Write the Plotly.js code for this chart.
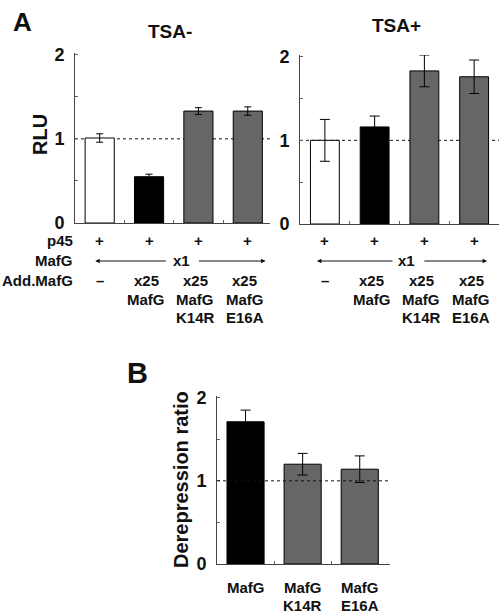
<!DOCTYPE html>
<html><head><meta charset="utf-8">
<script src="https://cdn.plot.ly/plotly-3.0.1.min.js"></script>
<style>body{margin:0;background:#fff}</style>
</head><body><div id="chart" style="width:500px;height:615px"></div>
<script>
// ---- data ----
const conditionsA = ["none", "MafG", "MafG K14R", "MafG E16A"];
const tsaMinus = [1.01, 0.55, 1.33, 1.33];
const tsaMinusErr = [0.05, 0.03, 0.04, 0.05];
const tsaPlus = [1.00, 1.16, 1.83, 1.76];
const tsaPlusErr = [0.25, 0.13, 0.19, 0.20];
const barColorsA = ["#ffffff", "#000000", "#666666", "#666666"];
const p45Row = ["+", "+", "+", "+"];
const addMafGRow = [["–"], ["x25", "MafG"], ["x25", "MafG", "K14R"], ["x25", "MafG", "E16A"]];
const rowLabels = ["p45", "MafG", "Add.MafG"];
const categoriesB = [["MafG"], ["MafG", "K14R"], ["MafG", "E16A"]];
const derepression = [1.71, 1.20, 1.14];
const derepressionErr = [0.14, 0.13, 0.16];
const barColorsB = ["#000000", "#666666", "#666666"];
const yTickVals = [0, 0.5, 1, 1.5, 2];
const yTickText = ["0", "", "1", "", "2"];

// ---- helpers ----
const W = 500, H = 615;
const px = v => v / W;
const py = v => 1 - v / H;
const FONT = "Liberation Sans, Arial, Helvetica, sans-serif";
const idxA = conditionsA.map((_, i) => i);
const idxB = categoriesB.map((_, i) => i);

function bar(x, y, err, colors, width, cap, xa, ya) {
  return {
    type: "bar", x: x, y: y, xaxis: xa, yaxis: ya, width: width,
    marker: {color: colors, line: {color: "#000", width: 1}},
    error_y: {type: "data", array: err, visible: true, color: "#000", thickness: 1, width: cap},
    hoverinfo: "skip", showlegend: false
  };
}
const traces = [
  bar(idxA, tsaMinus, tsaMinusErr, barColorsA, 0.59, 3.5, "x", "y"),
  bar(idxA, tsaPlus, tsaPlusErr, barColorsA, 0.58, 5, "x2", "y2"),
  bar(idxB, derepression, derepressionErr, barColorsB, 0.65, 5, "x3", "y3")
];

function xax(domain, range, n) {
  const tv = []; for (let i = 0; i < n - 1; i++) tv.push(i + 0.5);
  return {domain: domain, range: range, showline: true, linecolor: "#444", linewidth: 1,
    showgrid: false, zeroline: false, ticks: "inside", ticklen: 3, tickcolor: "#666",
    tickvals: tv, showticklabels: false, fixedrange: true};
}
function yax(domain, anchor) {
  return {domain: domain, range: [0, 2.02], anchor: anchor, showline: true, linecolor: "#444", linewidth: 1,
    showgrid: false, zeroline: false, ticks: "inside", ticklen: 3, tickcolor: "#666",
    tickvals: yTickVals, ticktext: yTickText, ticklabelstandoff: 6,
    tickfont: {family: FONT, size: 18, color: "#111", weight: "bold"}, fixedrange: true};
}

const ann = [];
function txt(text, x, y, size, opts) {
  ann.push(Object.assign({text: text, x: x, y: y, xref: "paper", yref: "paper", showarrow: false,
    xanchor: "center", yanchor: "middle",
    font: {family: FONT, size: size, color: "#111", weight: "bold"}}, opts || {}));
}
// panel letters and titles
txt("A", px(22), py(22), 26);
txt("B", px(137), py(373), 29);
txt("TSA-", px(170), py(32), 19);
txt("TSA+", px(396), py(26), 19);
txt("RLU", px(40), py(135), 20, {textangle: -90});
txt("Derepression ratio", px(181), py(480), 20, {textangle: -90});

// row labels (panel A)
const rowY = [240, 261, 280];
rowLabels.forEach((r, i) => txt(r, px(75), py(rowY[i]), 15, {xanchor: "right"}));
const lineY = [280, 299, 317];
[["x", 0], ["x2", 1]].forEach(([xr]) => {
  p45Row.forEach((s, i) => txt(s, i, py(rowY[0]), 15, {xref: xr}));
  addMafGRow.forEach((lines, i) => lines.forEach((l, j) =>
    txt(l, i, py(lineY[j]), 15, {xref: xr, xshift: i === 0 ? 0 : -3})));
});
// MafG x1 with arrows
function arrowRow(xr, leftHead, leftTail, xText, rightTail, rightHead) {
  txt("x1", xText, py(rowY[1]), 15, {xref: xr});
  const common = {xref: xr, axref: xr, yref: "paper", ayref: "pixel", ay: 0, text: "",
    showarrow: true, arrowhead: 2, arrowsize: 0.9, arrowwidth: 1, arrowcolor: "#111", standoff: 0, startstandoff: 0};
  ann.push(Object.assign({}, common, {x: leftHead, ax: leftTail, y: py(rowY[1])}));
  ann.push(Object.assign({}, common, {x: rightHead, ax: rightTail, y: py(rowY[1])}));
}
arrowRow("x", -0.09, 1.37, 1.65, 1.98, 3.36);
arrowRow("x2", -0.16, 1.39, 1.65, 1.97, 3.26);

// panel B category labels
categoriesB.forEach((lines, i) => lines.forEach((l, j) =>
  txt(l, i, py(587 + 18 * j), 15, {xref: "x3"})));

const dash = (xr, yr, layer) => ({type: "line", xref: xr + " domain", yref: yr, x0: 0, x1: 1, y0: 1, y1: 1,
  layer: layer, line: {color: "#111", width: 1, dash: "3px,3px"}});

const layout = {
  width: W, height: H, autosize: false,
  margin: {l: 0, r: 0, t: 0, b: 0},
  paper_bgcolor: "#fff", plot_bgcolor: "rgba(0,0,0,0)",
  showlegend: false, bargap: 0,
  xaxis: Object.assign(xax([px(75), px(270)], [-0.5, 3.45], 4), {anchor: "y"}),
  yaxis: yax([1 - 223 / H, 1 - 53 / H], "x"),
  xaxis2: Object.assign(xax([px(300), px(499)], [-0.5, 3.5], 4), {anchor: "y2"}),
  yaxis2: yax([1 - 224 / H, 1 - 55 / H], "x2"),
  xaxis3: Object.assign(xax([px(217), px(390)], [-0.5, 2.53], 3), {anchor: "y3"}),
  yaxis3: yax([1 - 564 / H, 1 - 396 / H], "x3"),
  shapes: [dash("x", "y", "below"), dash("x2", "y2", "below"), dash("x3", "y3", "above")],
  annotations: ann
};
Plotly.newPlot("chart", traces, layout, {staticPlot: true, displayModeBar: false});
</script></body></html>
